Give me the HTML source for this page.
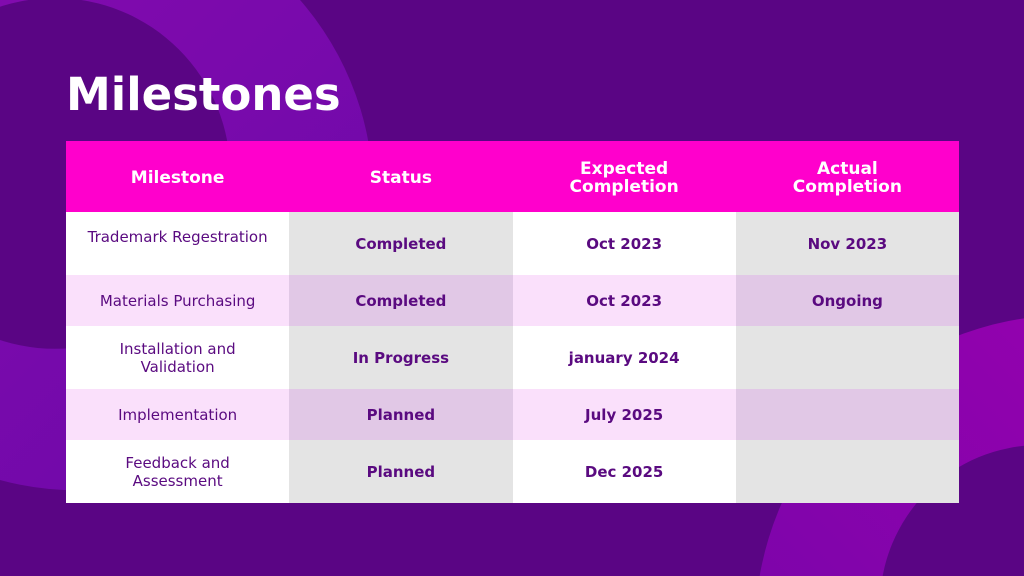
<!DOCTYPE html>
<html><head><meta charset="utf-8"><style>
html{overflow:hidden;height:576px}
body{margin:0;width:1024px;height:576px;overflow:hidden;background:#5a0584;font-family:"DejaVu Sans","Liberation Sans",sans-serif;position:relative}
svg.bg{position:absolute;left:0;top:0;overflow:hidden}
h1{position:absolute;left:66px;top:65px;margin:0;color:#fff;font-size:45px;font-weight:bold;line-height:60px}
table{position:absolute;left:66px;top:141px;width:893px;border-collapse:collapse;table-layout:fixed}
td,th{text-align:center;color:#5a0a80;padding:0;font-size:15px}
th{background:#ff00cc;color:#fff;font-size:17px;font-weight:bold;line-height:18px;padding:3px 0 0;box-sizing:border-box}
td.b{font-weight:bold;font-size:15px}
tr.o td:nth-child(odd){background:#fff}tr.o td:nth-child(even){background:#e4e4e4}
tr.e td:nth-child(odd){background:#fae0fb}tr.e td:nth-child(even){background:#e1c8e6}
</style></head><body>
<svg class="bg" width="1024" height="576">
<defs><linearGradient id="g1" x1="0" y1="0" x2="1" y2="1"><stop offset="0" stop-color="#8a0cb0"/><stop offset="1" stop-color="#6a08a8"/></linearGradient>
<linearGradient id="g2" x1="0" y1="1" x2="1" y2="0"><stop offset="0" stop-color="#7006a8"/><stop offset="1" stop-color="#a000b0"/></linearGradient></defs>
<path fill="url(#g1)" fill-rule="evenodd" d="M-218.3,194.6a295.7,295.7 0 1,0 591.4,0a295.7,295.7 0 1,0 -591.4,0Z M-120.6,173.4a175.4,175.4 0 1,0 350.8,0a175.4,175.4 0 1,0 -350.8,0Z"/>
<path fill="url(#g2)" fill-rule="evenodd" d="M755,630a315,315 0 1,0 630,0a315,315 0 1,0 -630,0Z M880,605a160,160 0 1,0 320,0a160,160 0 1,0 -320,0Z"/>
</svg>
<h1>Milestones</h1>
<table>
<tr style="height:71px"><th>Milestone</th><th>Status</th><th>Expected<br>Completion</th><th>Actual<br>Completion</th></tr>
<tr class="o" style="height:63px"><td style="vertical-align:top;padding-top:16px">Trademark Regestration</td><td class="b">Completed</td><td class="b">Oct 2023</td><td class="b">Nov 2023</td></tr>
<tr class="e" style="height:51px"><td>Materials Purchasing</td><td class="b">Completed</td><td class="b">Oct 2023</td><td class="b">Ongoing</td></tr>
<tr class="o" style="height:63px"><td>Installation and<br>Validation</td><td class="b">In Progress</td><td class="b">january 2024</td><td></td></tr>
<tr class="e" style="height:51px"><td>Implementation</td><td class="b">Planned</td><td class="b">July 2025</td><td></td></tr>
<tr class="o" style="height:63px"><td>Feedback and<br>Assessment</td><td class="b">Planned</td><td class="b">Dec 2025</td><td></td></tr>
</table>
</body></html>
